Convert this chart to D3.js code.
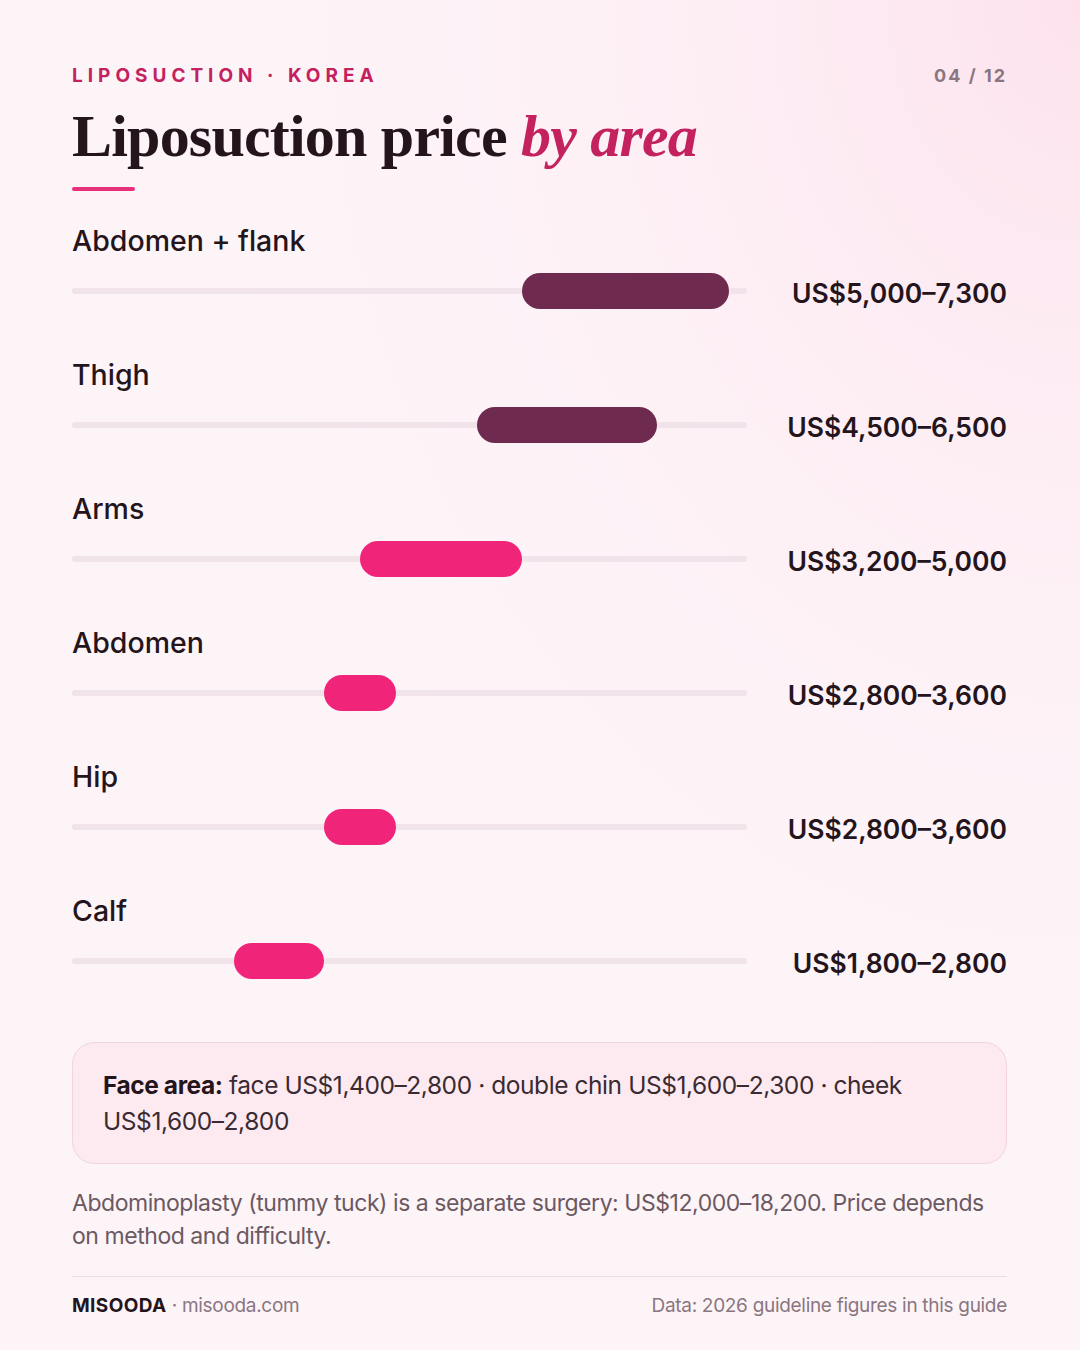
<!DOCTYPE html>
<html><head><meta charset="utf-8">
<script src="https://cdn.jsdelivr.net/npm/d3@7"></script>
<style>html,body{margin:0;padding:0;background:#fdf3f7;}svg{display:block;}</style>
</head><body>
<svg id="c" width="1080" height="1350"></svg>
<script>
const categories = ["Abdomen + flank","Thigh","Arms","Abdomen","Hip","Calf"];
const lowValues  = [5000,4500,3200,2800,2800,1800];
const highValues = [7300,6500,5000,3600,3600,2800];
const valueLabels = ["US$5,000–7,300","US$4,500–6,500","US$3,200–5,000","US$2,800–3,600","US$2,800–3,600","US$1,800–2,800"];
const tiers = ["high","high","mid","mid","mid","mid"];
const axisDomain = [0,7500];

const svg = d3.select("#c");
const defs = svg.append("defs");
const rg = defs.append("radialGradient").attr("id","glow").attr("cx","1").attr("cy","0").attr("r","0.8");
rg.append("stop").attr("offset","0").attr("stop-color","#fde2ed");
rg.append("stop").attr("offset","1").attr("stop-color","#fdf3f7").attr("stop-opacity","0");
svg.append("rect").attr("width",1080).attr("height",1350).attr("fill","#fdf4f8");
svg.append("rect").attr("width",1080).attr("height",1350).attr("fill","url(#glow)");

const sans = "Inter, 'Noto Sans', sans-serif";
svg.append("text").attr("x",72).attr("y",82).text("LIPOSUCTION · KOREA")
  .attr("font-family",sans).attr("font-weight",700).attr("font-size",19).attr("letter-spacing",5).attr("fill","#c4215f");
svg.append("text").attr("x",1007).attr("y",82).attr("text-anchor","end").text("04 / 12")
  .attr("font-family",sans).attr("font-weight",700).attr("font-size",18).attr("letter-spacing",2).attr("fill","#8a7680");

const title = svg.append("text").attr("x",72).attr("y",156)
  .attr("font-family","'Liberation Serif', 'DejaVu Serif', serif").attr("font-size",60).attr("fill","#24151c").attr("letter-spacing",-0.8);
title.append("tspan").attr("font-weight",700).text("Liposuction price ");
title.append("tspan").attr("font-style","italic").attr("font-weight",700).attr("fill","#c4215f").text("by area");
svg.append("rect").attr("x",72).attr("y",187).attr("width",63).attr("height",4).attr("rx",2).attr("fill","#e8307a");

const x = d3.scaleLinear().domain(axisDomain).range([72,747]);
const y = d3.scalePoint().domain(categories).range([291,961]);
const color = d3.scaleOrdinal().domain(["high","mid"]).range(["#6e2a4f","#f0257a"]);

const rows = svg.append("g").selectAll("g").data(categories).join("g")
  .attr("transform",d=>`translate(0,${y(d)})`);
rows.append("text").attr("x",72).attr("y",-40).text(d=>d)
  .attr("font-family",sans).attr("font-weight",500).attr("font-size",28.5).attr("fill","#24151c");
rows.append("rect").attr("x",x(axisDomain[0])).attr("y",-3).attr("width",x(axisDomain[1])-x(axisDomain[0])).attr("height",6).attr("rx",3).attr("fill","#f0e3e9");
rows.append("rect").attr("x",(d,i)=>x(lowValues[i])).attr("y",-18)
  .attr("width",(d,i)=>x(highValues[i])-x(lowValues[i])).attr("height",36).attr("rx",18)
  .attr("fill",(d,i)=>color(tiers[i]));
rows.append("text").attr("x",1007).attr("y",12).attr("text-anchor","end").text((d,i)=>valueLabels[i])
  .attr("font-family",sans).attr("font-weight",600).attr("font-size",26.5).attr("fill","#24151c");

svg.append("rect").attr("x",72.5).attr("y",1042.5).attr("width",934).attr("height",121).attr("rx",22)
  .attr("fill","#fdeaf1").attr("stroke","#f1d3df");
const b1 = svg.append("text").attr("x",103).attr("y",1094).attr("font-family",sans).attr("font-size",24.5).attr("fill","#3a2a32").attr("letter-spacing",-0.43);
b1.append("tspan").attr("font-weight",700).attr("fill","#24151c").text("Face area:");
b1.append("tspan").text(" face US$1,400–2,800 · double chin US$1,600–2,300 · cheek");
svg.append("text").attr("x",103).attr("y",1130).attr("font-family",sans).attr("font-size",24.5).attr("fill","#3a2a32").attr("letter-spacing",-0.43).text("US$1,600–2,800");

svg.append("text").attr("x",72).attr("y",1211).attr("font-family",sans).attr("font-size",23).attr("fill","#6b5962").attr("letter-spacing",-0.45)
  .text("Abdominoplasty (tummy tuck) is a separate surgery: US$12,000–18,200. Price depends");
svg.append("text").attr("x",72).attr("y",1244).attr("font-family",sans).attr("font-size",23).attr("fill","#6b5962").attr("letter-spacing",-0.45)
  .text("on method and difficulty.");

svg.append("line").attr("x1",72).attr("x2",1007).attr("y1",1276.5).attr("y2",1276.5).attr("stroke","#ecdde4");
const f1 = svg.append("text").attr("x",72).attr("y",1312).attr("font-family",sans).attr("font-size",19).attr("fill","#8a7680").attr("letter-spacing",-0.3);
f1.append("tspan").attr("font-weight",700).attr("fill","#24151c").attr("letter-spacing",0.4).text("MISOODA");
f1.append("tspan").text(" · misooda.com");
svg.append("text").attr("x",1007).attr("y",1312).attr("text-anchor","end").attr("font-family",sans).attr("font-size",19).attr("fill","#8a7680").attr("letter-spacing",-0.3)
  .text("Data: 2026 guideline figures in this guide");
</script>
</body></html>
